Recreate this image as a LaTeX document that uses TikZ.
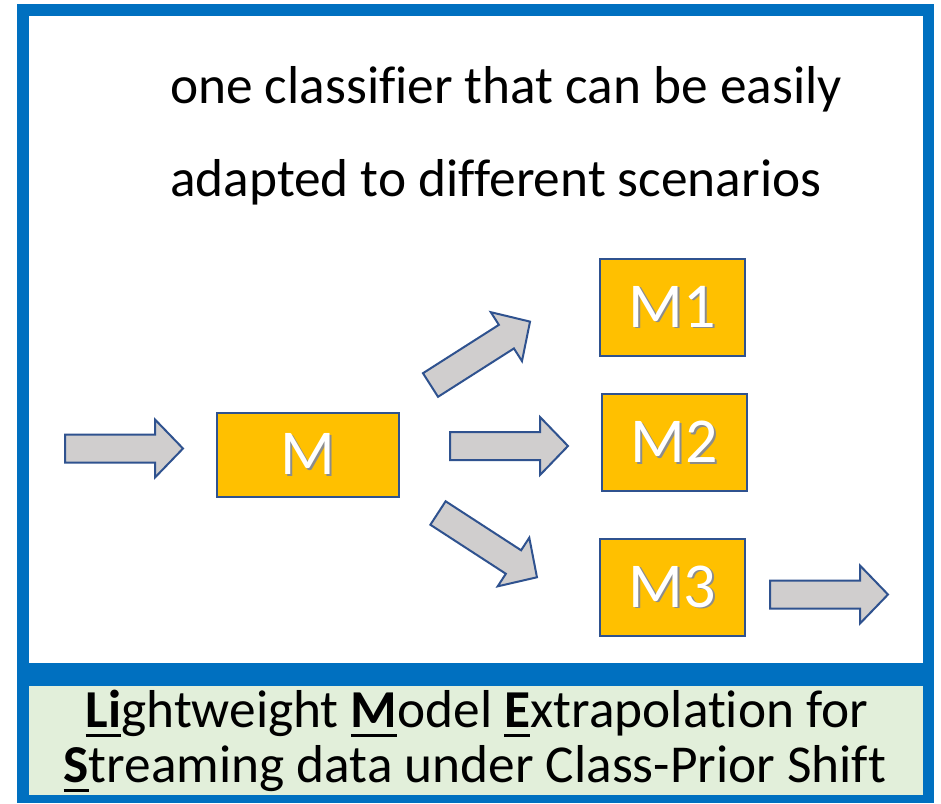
\documentclass[tikz,border=0pt]{standalone}
\usepackage{fontspec}
\setmainfont{Carlito}[Ligatures=NoCommon]
\usetikzlibrary{positioning}

\definecolor{frameblue}{HTML}{0070C0}
\definecolor{boxgold}{HTML}{FFC000}
\definecolor{edgeblue}{HTML}{2F528F}
\definecolor{arrowgray}{HTML}{D0CECE}
\definecolor{notegreen}{HTML}{E2EFDA}

% bold initial with a heavy underline
\newcommand{\ubf}[1]{\setbox0\hbox{\textbf{#1}}\rlap{\rule[-7.5pt]{\wd0}{2pt}}\box0}
% white label with a soft drop shadow
\newcommand{\shadowtext}[1]{\rlap{\hspace{1.3pt}\raisebox{-1.3pt}{\color{black!45}#1}}{\color{white}#1}}

\tikzset{
  pics/fatarrow/.style={code={
    \draw[arrowbody] (0,-14) -- (90,-14) -- (90,-29) -- (118,0)
       -- (90,29) -- (90,14) -- (0,14) -- cycle;}},
}

\begin{document}
\begin{tikzpicture}[x=0.75pt,y=-0.75pt,
    model/.style={draw=edgeblue,line width=1.3pt,fill=boxgold,inner sep=0pt,
      font=\fontsize{48}{52}\selectfont},
    arrowbody/.style={draw=edgeblue,line width=1.5pt,fill=arrowgray,line join=miter},
    bigtext/.style={anchor=base west,inner sep=0pt,font=\fontsize{40}{48}\selectfont},
    notetext/.style={anchor=base,inner sep=0pt,font=\fontsize{40}{48}\selectfont}]
  \useasboundingbox (0,0) rectangle (941,803);

  % frame
  \fill[frameblue] (17,4) rectangle (934,803);
  \fill[white] (29,16) rectangle (923,663);
  \fill[notegreen] (29,686) rectangle (923,795);

  % caption on top
  \node[bigtext] (line1) at (170,103) {one classifier that can be easily};
  \node[bigtext] (line2) at (170,196) {adapted to different scenarios};

  % models
  \node[model,minimum width=136.5pt,minimum height=63pt] (M) at (308,455) {\shadowtext{M}};
  \node[model,minimum width=108.75pt,minimum height=72.75pt] (M1) at (672.5,307.5) {\shadowtext{M1}};
  \node[model,minimum width=108.75pt,minimum height=72.75pt] (M2) at (674.5,442.5) {\shadowtext{M2}};
  \node[model,minimum width=108.75pt,minimum height=72.75pt] (M3) at (672.5,587.5) {\shadowtext{M3}};

  % block arrows
  \pic (arrIn) at (65,448.5) {fatarrow};
  \pic[rotate=32.5] (arrUp) at (430.5,385) {fatarrow};
  \pic (arrMid) at (450,446) {fatarrow};
  \pic[rotate=-33] (arrDown) at (438,513) {fatarrow};
  \pic (arrOut) at (770,594.5) {fatarrow};

  % acronym
  \node[notetext] (name1) at (477,727) {\ubf{Li}ghtweight \ubf{M}odel \ubf{E}xtrapolation for};
  \node[notetext] (name2) at (475,782) {\ubf{S}treaming data under Class-Prior Shift};
\end{tikzpicture}
\end{document}
